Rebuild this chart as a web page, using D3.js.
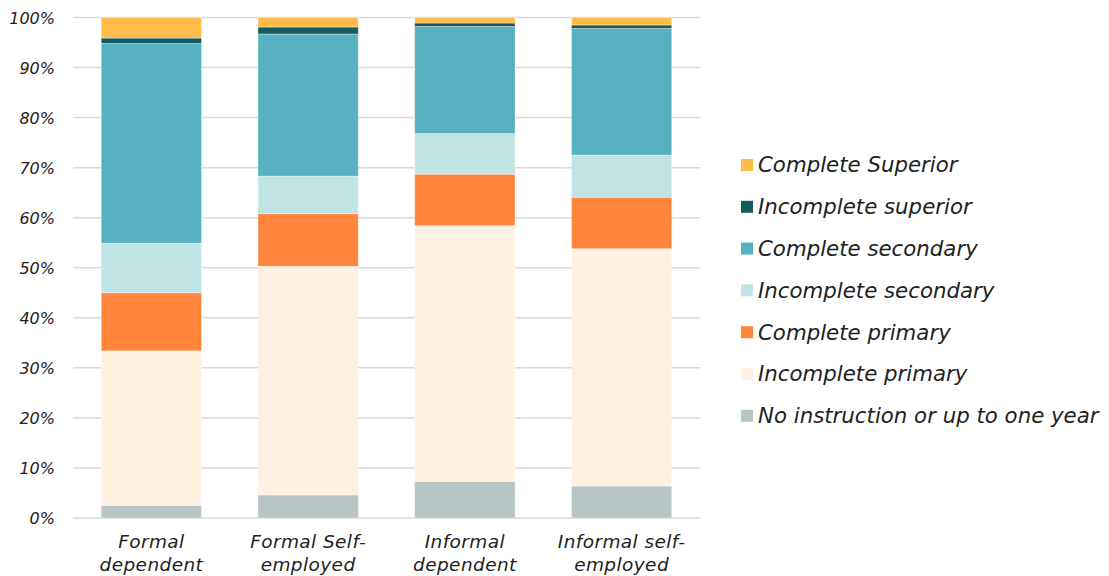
<!DOCTYPE html>
<html>
<head>
<meta charset="utf-8">
<script src="https://cdn.jsdelivr.net/npm/d3@7"></script>
<style>
  html, body { margin: 0; padding: 0; background: #fff; }
  svg text { font-family: "DejaVu Sans", sans-serif; font-style: italic; fill: #222; }
</style>
</head>
<body>
<svg id="chart" width="1109" height="576"></svg>
<script>
// Employment groups on the x axis
const categories = ["Formal dependent", "Formal Self-employed", "Informal dependent", "Informal self-employed"];
const categoryLines = [["Formal", "dependent"], ["Formal Self-", "employed"], ["Informal", "dependent"], ["Informal self-", "employed"]];

// Education levels, bottom to top of each stack
const levels = [
  "No instruction or up to one year",
  "Incomplete primary",
  "Complete primary",
  "Incomplete secondary",
  "Complete secondary",
  "Incomplete superior",
  "Complete Superior"
];
const levelColors = ["#b7c5c4", "#fef1e2", "#ff853d", "#c0e4e3", "#57b1c1", "#135b5c", "#ffbc4a"];

// Share (%) of each education level within each group
const noInstruction       = [2.5, 4.6, 7.3, 6.4];
const incompletePrimary   = [30.9, 45.7, 51.1, 47.4];
const completePrimary     = [11.6, 10.5, 10.3, 10.3];
const incompleteSecondary = [9.9, 7.5, 8.1, 8.4];
const completeSecondary   = [39.9, 28.4, 21.4, 25.3];
const incompleteSuperior  = [1.1, 1.4, 0.7, 0.7];
const completeSuperior    = [4.1, 1.9, 1.1, 1.5];

const yTicks = [0, 10, 20, 30, 40, 50, 60, 70, 80, 90, 100];

const seriesValues = [noInstruction, incompletePrimary, completePrimary, incompleteSecondary,
                      completeSecondary, incompleteSuperior, completeSuperior];

const rows = categories.map((c, i) => {
  const r = { category: c };
  levels.forEach((lv, j) => { r[lv] = seriesValues[j][i]; });
  return r;
});

const svg = d3.select("#chart");
const margin = { left: 73, right: 409, top: 17.5, bottom: 58 };
const W = 1109, H = 576;

const x = d3.scaleBand()
  .domain(categories)
  .range([margin.left, W - margin.right])
  .paddingInner(0.36)
  .paddingOuter(0.18);

const y = d3.scaleLinear()
  .domain([0, 100])
  .range([H - margin.bottom, margin.top]);

// Horizontal gridlines
svg.append("g")
  .selectAll("line")
  .data(yTicks)
  .join("line")
  .attr("x1", margin.left)
  .attr("x2", W - margin.right)
  .attr("y1", d => y(d))
  .attr("y2", d => y(d))
  .attr("stroke", "#d9d9d9")
  .attr("stroke-width", 1.5);

// Y axis labels
const yAxis = d3.axisLeft(y).tickValues(yTicks).tickFormat(d => d + "%").tickSize(0).tickPadding(0);
const yg = svg.append("g").attr("transform", `translate(${margin.left - 18},0)`).call(yAxis);
yg.select(".domain").remove();
yg.selectAll("text")
  .attr("font-size", 16)
  .attr("fill", "#222")
  .style("font-family", "'DejaVu Sans', sans-serif")
  .style("font-style", "italic")
  .attr("dy", "0.35em");

// Stacked bars
const stack = d3.stack().keys(levels);
const stacked = stack(rows);

svg.append("g")
  .selectAll("g")
  .data(stacked)
  .join("g")
  .attr("fill", (d, i) => levelColors[i])
  .selectAll("rect")
  .data(d => d)
  .join("rect")
  .attr("x", d => x(d.data.category))
  .attr("width", x.bandwidth())
  .attr("y", d => y(d[1]))
  .attr("height", d => y(d[0]) - y(d[1]))
  .attr("stroke", "#ffffff")
  .attr("stroke-opacity", 0.5)
  .attr("stroke-width", 0.75);

// Category labels on two lines
const xl = svg.append("g");
categories.forEach((c, i) => {
  const t = xl.append("text")
    .attr("x", x(c) + x.bandwidth() / 2)
    .attr("y", 548)
    .attr("text-anchor", "middle")
    .attr("font-size", 18.5)
    .attr("letter-spacing", 0.4);
  categoryLines[i].forEach((ln, k) => {
    t.append("tspan")
      .attr("x", x(c) + x.bandwidth() / 2)
      .attr("dy", k === 0 ? 0 : 23)
      .text(ln);
  });
});

// Legend, top entry is the top of the stack
const legendOrder = levels.slice().reverse();
const legend = svg.append("g").attr("transform", "translate(741,0)");
legendOrder.forEach((lv, i) => {
  const cy = 165 + i * 41.8;
  legend.append("rect")
    .attr("x", 0).attr("y", cy - 6)
    .attr("width", 12).attr("height", 12)
    .attr("fill", levelColors[levels.indexOf(lv)]);
  legend.append("text")
    .attr("x", 17).attr("y", cy)
    .attr("dy", "0.35em")
    .attr("font-size", 21.3)
    .text(lv);
});
</script>
</body>
</html>
